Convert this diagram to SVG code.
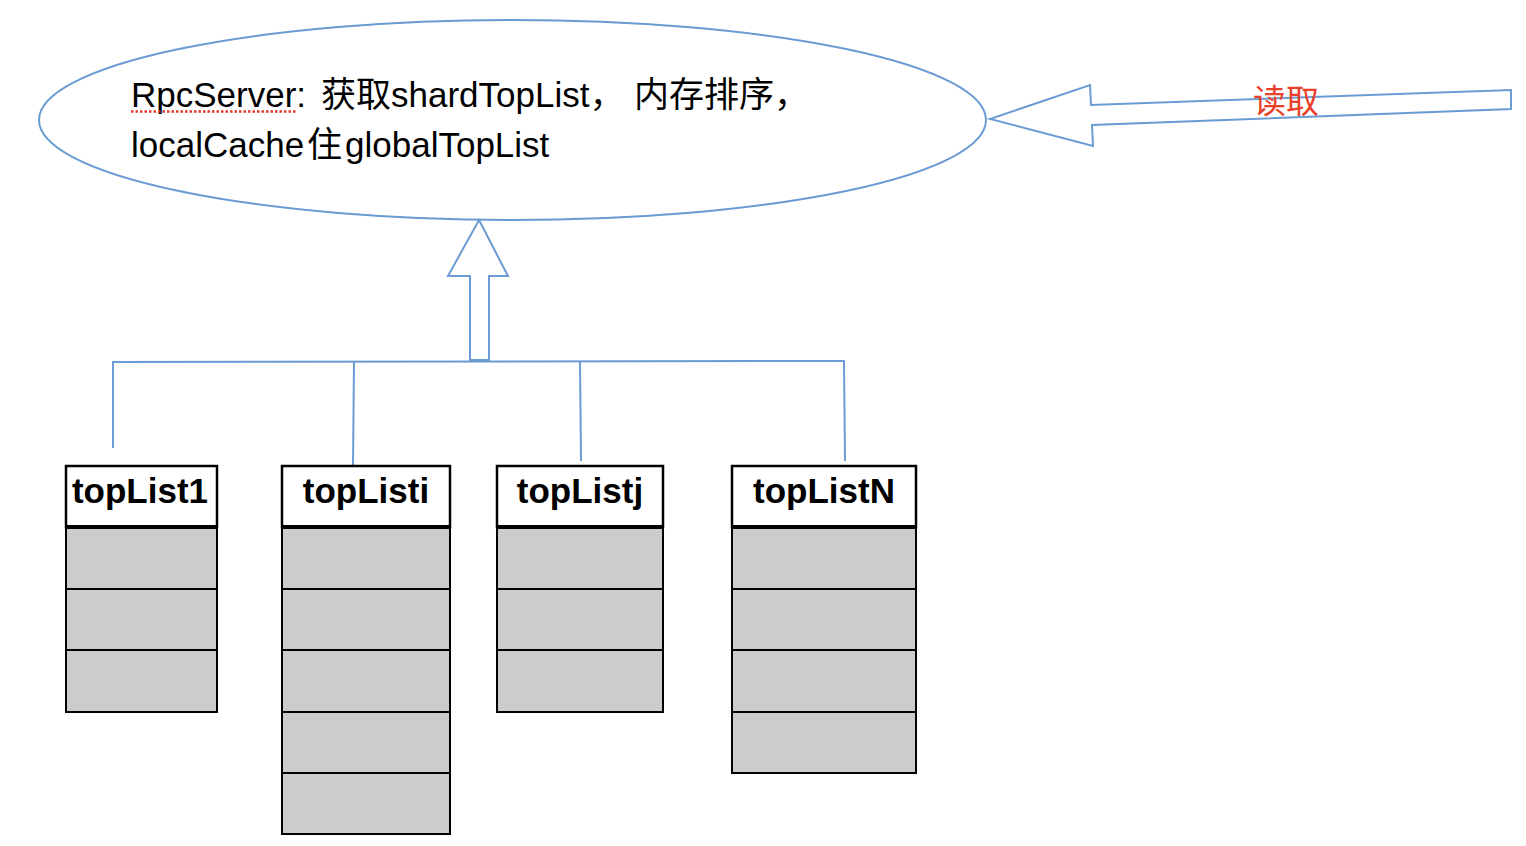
<svg xmlns="http://www.w3.org/2000/svg" width="1526" height="846" viewBox="0 0 1526 846">
<style>
.blue{fill:none;stroke:#6a9bd3;stroke-width:2}
.hdr{fill:#fff;stroke:#000;stroke-width:2.5}
.row{fill:#cccccc;stroke:#000;stroke-width:2}
.sep{stroke:#000;stroke-width:4}
.title{font-family:"Liberation Sans","Noto Sans CJK SC",sans-serif;font-size:35px;font-weight:bold;fill:#000;text-anchor:middle}
.main{font-family:"Liberation Sans","Noto Sans CJK SC",sans-serif;font-size:35px;fill:#000}
</style>
<rect width="1526" height="846" fill="#fff"/>
<g id="rpcserver">
<ellipse cx="512.5" cy="120" rx="473.5" ry="100" class="blue"/>
<text class="main" y="107"><tspan x="131">RpcServer: </tspan><tspan x="321">获取</tspan><tspan x="391">shardTopList，</tspan><tspan x="634">内存排序，</tspan></text>
<text class="main" y="157"><tspan x="131">localCache</tspan><tspan x="307">住</tspan><tspan x="345">globalTopList</tspan></text>
<line x1="131" y1="111.5" x2="296" y2="111.5" stroke="#e0392b" stroke-width="2.5" stroke-dasharray="2.5 2"/>
</g>
<g id="connectors">
<path class="blue" d="M990,119 L1090,85 L1091,105 L1511,90 L1511,109 L1092,125 L1093,146 Z"/>
<text x="1253" y="113" font-family="'Liberation Sans','Noto Sans CJK SC',sans-serif" font-size="33" fill="#e8402a">读取</text>
<path class="blue" d="M479,220 L508,276 L489,276 L489,360 L470,360 L470,276 L448,276 Z"/>
<path class="blue" d="M113,448 L113,362 L844,361 L845,461"/>
<line class="blue" x1="354" y1="362" x2="353" y2="466"/>
<line class="blue" x1="580" y1="361" x2="581" y2="461"/>
</g>
<g id="topList1">
<rect x="66" y="466" width="151" height="61" class="hdr"/>
<rect x="66" y="527" width="151" height="62" class="row"/>
<rect x="66" y="589" width="151" height="61" class="row"/>
<rect x="66" y="650" width="151" height="62" class="row"/>
<line x1="66" y1="527" x2="217" y2="527" class="sep"/>
<text class="title" x="140" y="503">topList1</text>
</g>
<g id="topListi">
<rect x="282" y="466" width="168" height="61" class="hdr"/>
<rect x="282" y="527" width="168" height="62" class="row"/>
<rect x="282" y="589" width="168" height="61" class="row"/>
<rect x="282" y="650" width="168" height="62" class="row"/>
<rect x="282" y="712" width="168" height="61" class="row"/>
<rect x="282" y="773" width="168" height="61" class="row"/>
<line x1="282" y1="527" x2="450" y2="527" class="sep"/>
<text class="title" x="366" y="503">topListi</text>
</g>
<g id="topListj">
<rect x="497" y="466" width="166" height="61" class="hdr"/>
<rect x="497" y="527" width="166" height="62" class="row"/>
<rect x="497" y="589" width="166" height="61" class="row"/>
<rect x="497" y="650" width="166" height="62" class="row"/>
<line x1="497" y1="527" x2="663" y2="527" class="sep"/>
<text class="title" x="580" y="503">topListj</text>
</g>
<g id="topListN">
<rect x="732" y="466" width="184" height="61" class="hdr"/>
<rect x="732" y="527" width="184" height="62" class="row"/>
<rect x="732" y="589" width="184" height="61" class="row"/>
<rect x="732" y="650" width="184" height="62" class="row"/>
<rect x="732" y="712" width="184" height="61" class="row"/>
<line x1="732" y1="527" x2="916" y2="527" class="sep"/>
<text class="title" x="824" y="503">topListN</text>
</g>
</svg>
